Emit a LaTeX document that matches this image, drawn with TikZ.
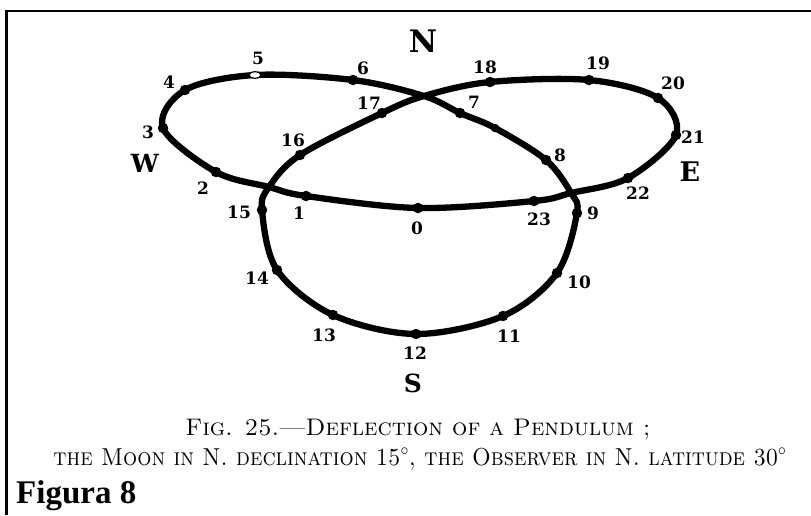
\documentclass[tikz,border=0pt]{standalone}
\usepackage{fontspec}
\usetikzlibrary{shapes.geometric}
\newfontfamily\labfont{DejaVu Serif}
\newfontfamily\figfont{Liberation Serif}
\begin{document}
\begin{tikzpicture}[x=1pt,y=-1pt,
  curve/.style={line width=6.3pt, line join=round},
  dotmark/.style={circle, fill=black, inner sep=0pt, minimum size=10.5pt},
  numlbl/.style={font=\labfont\bfseries\fontsize{17}{17}\selectfont, inner sep=0pt},
  dirlbl/.style={font=\labfont\bfseries\fontsize{25}{25}\selectfont, inner sep=0pt},
  caption/.style={inner sep=0pt, anchor=base}]
\useasboundingbox (0,0) rectangle (811,515);
% frame
\coordinate (fa) at (6.5,515);
\coordinate (fb) at (6.5,11);
\coordinate (fc) at (811,11);
\draw[line width=2.6pt] (fa) -- (fb) -- (fc);
% curve points
\coordinate (p0) at (418,208);
\coordinate (p1) at (306,196);
\coordinate (x2) at (269,187);
\coordinate (p2) at (216,172);
\coordinate (p3) at (163,128);
\coordinate (p4) at (185,90);
\coordinate (p5) at (255,75);
\coordinate (p6) at (353,80);
\coordinate (x1) at (424,96);
\coordinate (p7) at (460,113);
\coordinate (pm) at (495,128);
\coordinate (p8) at (546,160);
\coordinate (x3) at (571,193);
\coordinate (p9) at (577,213);
\coordinate (p10) at (557,273);
\coordinate (p11) at (503,316);
\coordinate (p12) at (416,334);
\coordinate (p13) at (333,315);
\coordinate (p14) at (277,270);
\coordinate (p15) at (262,210);
\coordinate (p16) at (300,155);
\coordinate (p17) at (382,113);
\coordinate (p18) at (490,82);
\coordinate (p19) at (589,80);
\coordinate (p20) at (658,98);
\coordinate (p21) at (676,135);
\coordinate (p22) at (628,178);
\coordinate (p23) at (534,201);
\draw[curve] plot[smooth cycle, tension=0.55] coordinates {(p0) (p1) (x2) (p2) (p3) (p4) (p5) (p6) (x1) (p7) (pm) (p8) (x3) (p9) (p10) (p11) (p12) (p13) (p14) (p15) (x2) (p16) (p17) (x1) (p18) (p19) (p20) (p21) (p22) (x3) (p23)};
% dots
\foreach \i in {0,1,2,3,4,6,7,8,9,10,11,12,13,14,15,16,17,18,19,20,21,22,23}
  \node[dotmark] (d\i) at (p\i) {};
\node[dotmark, minimum size=8.5pt] (dm) at (pm) {};
\node[ellipse, draw=black, fill=white, line width=1.2pt, minimum width=12pt, minimum height=6.5pt, inner sep=0pt] (d5) at (p5) {};
% number labels
\node[numlbl] (l0) at (417,228) {0};
\node[numlbl] (l1) at (299,213) {1};
\node[numlbl] (l2) at (203,188) {2};
\node[numlbl] (l3) at (148,132) {3};
\node[numlbl] (l4) at (169,82) {4};
\node[numlbl] (l5) at (258,58) {5};
\node[numlbl] (l6) at (363,68) {6};
\node[numlbl] (l7) at (474,102) {7};
\node[numlbl] (l8) at (560,155) {8};
\node[numlbl] (l9) at (593,213) {9};
\node[numlbl] (l10) at (579,282) {10};
\node[numlbl] (l11) at (509,336) {11};
\node[numlbl] (l12) at (415,353) {12};
\node[numlbl] (l13) at (324,335) {13};
\node[numlbl] (l14) at (257,278) {14};
\node[numlbl] (l15) at (239,212) {15};
\node[numlbl] (l16) at (293,140) {16};
\node[numlbl] (l17) at (369,103) {17};
\node[numlbl] (l18) at (485,67) {18};
\node[numlbl] (l19) at (598,63) {19};
\node[numlbl] (l20) at (673,83) {20};
\node[numlbl] (l21) at (693,137) {21};
\node[numlbl] (l22) at (638,193) {22};
\node[numlbl] (l23) at (539,219) {23};
% compass labels
\node[dirlbl, font=\labfont\bfseries\fontsize{31}{31}\selectfont] (cn) at (423,41) {N};
\node[dirlbl] (cw) at (145,163) {W};
\node[dirlbl, font=\labfont\bfseries\fontsize{27}{27}\selectfont] (ce) at (690,172) {E};
\node[dirlbl] (cs) at (413,383) {S};
% caption
\node[caption] (cap1) at (418,435) {\fontsize{24}{24}\selectfont\textsc{Fig. 25.—Deflection of a Pendulum ;}};
\node[caption] (cap2) at (420,465) {\scalebox{0.91}[1]{\fontsize{24.5}{24.5}\selectfont\textsc{the Moon in N. declination 15$^\circ$, the Observer in N. latitude 30$^\circ$}}};
\node[font=\figfont\bfseries\fontsize{33}{33}\selectfont, inner sep=0pt, anchor=base west] (fig) at (16,503) {Figura 8};
\end{tikzpicture}
\end{document}
